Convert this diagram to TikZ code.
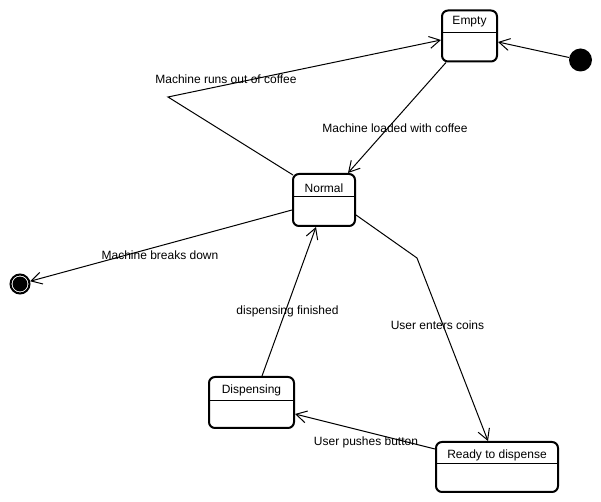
\documentclass[tikz,border=0pt]{standalone}
\usepackage{fontspec}
\setmainfont{Liberation Sans}
\usetikzlibrary{arrows.meta,calc}
\begin{document}
\begin{tikzpicture}[x=0.75pt,y=-0.75pt,
  state/.style={draw, line width=1.5pt, rounded corners=4.5pt, inner sep=0pt},
  divider/.style={line width=0.75pt},
  conn/.style={line width=0.75pt, -{Straight Barb[length=8pt,width=9pt]}},
  lbl/.style={font=\fontsize{9}{10}\selectfont, inner sep=0pt},
  sname/.style={font=\fontsize{9}{10}\selectfont, inner sep=0pt}]
\useasboundingbox (0,0) rectangle (601,502);
% states
\node[state, minimum width=55*0.75pt, minimum height=51*0.75pt] (empty) at (469.5,36) {};
\node[sname] (emptyT) at (469.5,22) {Empty};
\draw[divider] (empty.west |- 0,33) -- (empty.east |- 0,33);

\node[state, minimum width=62*0.75pt, minimum height=52*0.75pt] (normal) at (324,200) {};
\node[sname] (normalT) at (324,188) {Normal};
\draw[divider] (normal.west |- 0,197) -- (normal.east |- 0,197);

\node[state, minimum width=85*0.75pt, minimum height=51*0.75pt] (dispensing) at (251.5,402.5) {};
\node[sname] (dispensingT) at (251.5,390) {Dispensing};
\draw[divider] (dispensing.west |- 0,401) -- (dispensing.east |- 0,401);

\node[state, minimum width=122*0.75pt, minimum height=50*0.75pt] (ready) at (497,467) {};
\node[sname] (readyT) at (497,455) {Ready to dispense};
\draw[divider] (ready.west |- 0,464) -- (ready.east |- 0,464);

% pseudo states
\node[circle, fill, inner sep=0pt, minimum size=23*0.75pt] (init) at (580.5,60) {};
\node[circle, draw, line width=1.5pt, inner sep=0pt, minimum size=19*0.75pt] (final) at (20,284) {};
\fill (final.center) circle (5.6pt);

% bend points
\coordinate (b1) at (168,97);
\coordinate (b2) at (417,258);

% connectors
\draw[conn] (init) -- ($(empty.east)+(0,6)$);
\draw[conn] ($(normal.north west)+(1,2)$) -- (b1) -- ($(empty.west)+(0,4)$);
\draw[conn] ($(empty.south west)+(5,0)$) -- ($(normal.north east)+(-8,0)$);
\draw[conn] ($(normal.west)+(0,10)$) -- (final);
\draw[conn] ($(normal.east)+(0,15)$) -- (b2) -- ($(ready.north)+(-9,0)$);
\draw[conn] ($(dispensing.north)+(10.5,0)$) -- ($(normal.south)+(-8,0)$);
\draw[conn] ($(ready.west)+(0,-18)$) -- ($(dispensing.east)+(0,11.5)$);

% labels
\node[lbl] (l1) at (226,79) {Machine runs out of coffee};
\node[lbl] (l2) at (395,128) {Machine loaded with coffee};
\node[lbl] (l3) at (160,255) {Machine breaks down};
\node[lbl] (l4) at (437.5,325) {User enters coins};
\node[lbl] (l5) at (287.5,311) {dispensing finished};
\node[lbl] (l6) at (366,442) {User pushes button};
\end{tikzpicture}
\end{document}
